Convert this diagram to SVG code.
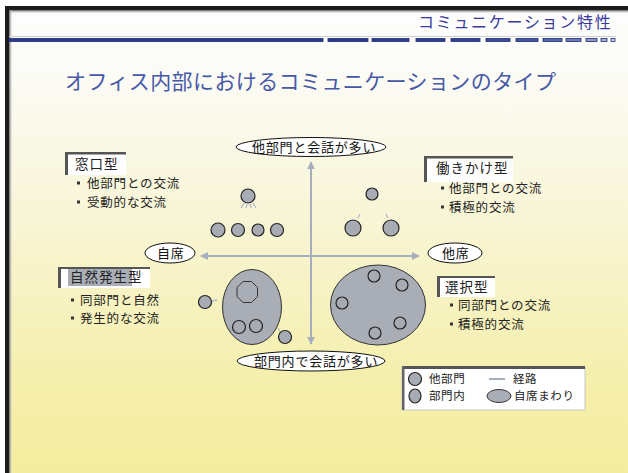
<svg xmlns="http://www.w3.org/2000/svg" width="628" height="473" viewBox="0 0 628 473">
<defs>
<linearGradient id="bg" x1="0" y1="0" x2="0" y2="1">
<stop offset="0" stop-color="#fdfdfd"/>
<stop offset="0.12" stop-color="#fcfcf8"/>
<stop offset="0.45" stop-color="#f8f5d6"/>
<stop offset="0.8" stop-color="#f5efac"/>
<stop offset="1" stop-color="#f4ed9e"/>
</linearGradient>
<linearGradient id="shadeTop" x1="0" y1="0" x2="0" y2="1">
<stop offset="0" stop-color="#555"/>
<stop offset="1" stop-color="#fdfdfd" stop-opacity="0"/>
</linearGradient>
<linearGradient id="shadeLeft" x1="0" y1="0" x2="1" y2="0">
<stop offset="0" stop-color="#666"/>
<stop offset="1" stop-color="#fdfdfd" stop-opacity="0"/>
</linearGradient>
<marker id="arr" viewBox="0 0 10 10" refX="9" refY="5" markerWidth="4" markerHeight="4" orient="auto-start-reverse" markerUnits="strokeWidth">
<path d="M0,0 L10,5 L0,10 Z" fill="#a6adbc"/>
</marker>
</defs>
<style>
.jp{font-family:"Noto Sans CJK JP","Noto Sans",sans-serif;}
.node{fill:#a7acb4;stroke:#222;stroke-width:1.2;}
.big{fill:#a9adb5;stroke:#333;stroke-width:1;}
.mark{stroke:#b3b9c5;stroke-width:1.3;fill:none;}
.axis{stroke:#a6adbc;stroke-width:2;fill:none;}
.oval{fill:#fff;stroke:#111;stroke-width:1;}
.olbl{font-size:13px;fill:#111;letter-spacing:0.8px;}
.lbl{font-size:13.5px;fill:#222;letter-spacing:1px;}
.item{font-size:12.5px;fill:#222;letter-spacing:0.8px;}
.bul{fill:#333;}
.boxw{fill:#fff;}
.boxd{fill:#555;}
.leg{font-size:11.5px;fill:#222;}
.dash{stroke:#1f2b75;stroke-width:0.8;}
</style>

<!-- frame and background -->
<rect x="0" y="0" width="628" height="473" fill="#ffffff"/>
<rect x="5" y="6" width="623" height="467" fill="url(#bg)"/>
<rect x="9" y="10" width="619" height="4" fill="url(#shadeTop)"/>
<rect x="9" y="10" width="4" height="463" fill="url(#shadeLeft)"/>
<rect x="5" y="6" width="623" height="4" fill="#1c1c1c"/>
<rect x="5" y="6" width="4" height="467" fill="#1c1c1c"/>

<!-- header -->
<g id="header">
<text class="jp" x="418" y="28" font-size="16" fill="#3a3a9c" letter-spacing="1.7">コミュニケーション特性</text>
<line x1="9" y1="36.5" x2="616" y2="36.5" stroke="#cfcfcf" stroke-width="1"/>
<rect x="9" y="38.5" width="314" height="3" fill="#2b3990" class="dash"/>
<rect x="328" y="38.5" width="40" height="3" fill="#2b3990" class="dash"/>
<rect x="372" y="38.5" width="37" height="3" fill="#2d3b92" class="dash"/>
<rect x="416" y="38.5" width="29" height="3" fill="#303f95" class="dash"/>
<rect x="451" y="38.5" width="29" height="3" fill="#34439a" class="dash"/>
<rect x="486" y="38.5" width="24" height="3" fill="#3c4a9f" class="dash"/>
<rect x="516" y="38.5" width="22" height="3" fill="#4654a5" class="dash"/>
<rect x="543" y="38.5" width="19" height="3" fill="#5765ae" class="dash"/>
<rect x="566" y="38.5" width="15" height="3" fill="#6f7cba" class="dash"/>
<rect x="586" y="38.5" width="11" height="3" fill="#8e99c8" class="dash"/>
<rect x="601" y="38.5" width="6" height="3" fill="#a9b2d6" class="dash"/>
<rect x="611" y="38.5" width="4" height="3" fill="#d0d5e8" class="dash"/>
</g>

<g id="title">
<text class="jp" x="65" y="89" font-size="21" fill="#4658a8" letter-spacing="0.4">オフィス内部におけるコミュニケーションのタイプ</text>
</g>

<!-- connectors (axes) -->
<g id="connectors">
<line class="axis" x1="311" y1="162" x2="311" y2="344" marker-start="url(#arr)" marker-end="url(#arr)"/>
<line class="axis" x1="201" y1="256" x2="419" y2="256" marker-start="url(#arr)" marker-end="url(#arr)"/>
</g>

<!-- axis labels -->
<g id="node-top">
<ellipse class="oval" cx="311" cy="147" rx="75" ry="9.5"/>
<text class="jp olbl" x="252" y="152">他部門と会話が多い</text>
</g>
<g id="node-bottom">
<ellipse class="oval" cx="311" cy="361" rx="74" ry="10"/>
<text class="jp olbl" x="254" y="366">部門内で会話が多い</text>
</g>
<g id="node-left">
<ellipse class="oval" cx="170" cy="253" rx="25" ry="10"/>
<text class="jp olbl" x="157" y="258">自席</text>
</g>
<g id="node-right">
<ellipse class="oval" cx="455" cy="253" rx="27" ry="10"/>
<text class="jp olbl" x="442" y="258">他席</text>
</g>

<!-- quadrant: 窓口型 -->
<g id="label-madoguchi">
<rect class="boxw" x="65" y="152" width="61" height="23"/>
<rect class="boxd" x="65" y="152" width="61" height="2.5"/>
<rect class="boxd" x="65" y="152" width="3" height="23"/>
<text class="jp lbl" x="75" y="169">窓口型</text>
<rect class="bul" x="77" y="181.5" width="3" height="3"/>
<text class="jp item" x="87" y="188">他部門との交流</text>
<rect class="bul" x="77" y="200.5" width="3" height="3"/>
<text class="jp item" x="87" y="207">受動的な交流</text>
</g>
<g id="group-madoguchi">
<circle class="node" cx="248" cy="196" r="7"/>
<path class="mark" d="M244,203 L241,208 M247,204 L246,208 M250,204 L251,208 M253,203 L256,208"/>
<circle class="node" cx="218" cy="230" r="7"/>
<circle class="node" cx="238" cy="230" r="6.5"/>
<circle class="node" cx="258" cy="230" r="6"/>
<circle class="node" cx="277" cy="230" r="6.5"/>
</g>

<!-- quadrant: 働きかけ型 -->
<g id="label-hatarakikake">
<rect class="boxw" x="424" y="156" width="89" height="26"/>
<rect class="boxd" x="424" y="156" width="89" height="2.5"/>
<rect class="boxd" x="424" y="156" width="3" height="26"/>
<text class="jp lbl" x="436" y="173">働きかけ型</text>
<rect class="bul" x="441" y="186.5" width="3" height="3"/>
<text class="jp item" x="449" y="193">他部門との交流</text>
<rect class="bul" x="441" y="205.5" width="3" height="3"/>
<text class="jp item" x="449" y="212">積極的交流</text>
</g>
<g id="group-hatarakikake">
<circle class="node" cx="372" cy="194" r="6"/>
<path class="mark" d="M358,218 L360,214 M386,214 L388,218"/>
<circle class="node" cx="353" cy="228" r="8"/>
<circle class="node" cx="391" cy="228" r="8"/>
</g>

<!-- quadrant: 自然発生型 -->
<g id="label-shizen">
<rect class="boxw" x="58" y="267" width="92" height="21"/>
<rect x="68" y="269" width="64" height="17" fill="#a9adb5"/>
<rect class="boxd" x="58" y="267" width="92" height="2"/>
<rect class="boxd" x="58" y="267" width="3" height="21"/>
<text class="jp lbl" x="70" y="282" letter-spacing="0">自然発生型</text>
<rect class="bul" x="71" y="298.5" width="3" height="3"/>
<text class="jp item" x="80" y="305" letter-spacing="0">同部門と自然</text>
<rect class="bul" x="71" y="316.5" width="3" height="3"/>
<text class="jp item" x="80" y="323" letter-spacing="0">発生的な交流</text>
</g>
<g id="group-shizen">
<ellipse class="big" cx="252" cy="307" rx="29.5" ry="37.5"/>
<polygon class="big" points="243,281.5 251.5,281.5 257.5,287.5 257.5,296.5 251.5,302.5 243,302.5 237,296.5 237,287.5" stroke-width="1.2"/>
<circle class="node" cx="239" cy="327" r="6.5"/>
<circle class="node" cx="256" cy="326" r="6.5"/>
<circle class="node" cx="205" cy="302" r="6.5"/>
<path class="mark" d="M212,301 L217,300 M278,328 L281,333"/>
<circle class="node" cx="285" cy="337" r="6.5"/>
</g>

<!-- quadrant: 選択型 -->
<g id="label-sentaku">
<rect class="boxw" x="437" y="276" width="58" height="21"/>
<rect class="boxd" x="437" y="276" width="58" height="2"/>
<rect class="boxd" x="437" y="276" width="3" height="21"/>
<text class="jp lbl" x="445" y="292">選択型</text>
<rect class="bul" x="450" y="303.5" width="3" height="3"/>
<text class="jp item" x="458" y="310">同部門との交流</text>
<rect class="bul" x="450" y="322.5" width="3" height="3"/>
<text class="jp item" x="458" y="329">積極的交流</text>
</g>
<g id="group-sentaku">
<ellipse class="big" cx="378" cy="305" rx="47.5" ry="40"/>
<circle class="node" cx="374" cy="276" r="6"/>
<circle class="node" cx="402" cy="285" r="6"/>
<circle class="node" cx="342" cy="303" r="6"/>
<circle class="node" cx="400" cy="323" r="6"/>
<circle class="node" cx="375" cy="333" r="6"/>
</g>

<!-- legend -->
<g id="legend">
<rect x="402" y="367" width="183" height="43" fill="#fff" stroke="#c8c8c8" stroke-width="1"/>
<rect x="402" y="366" width="183" height="3" fill="#555"/>
<rect x="402" y="366" width="2.5" height="44" fill="#666"/>
<circle class="node" cx="415" cy="379" r="6.5"/>
<text class="jp leg" x="429" y="382.5" letter-spacing="0.6">他部門</text>
<ellipse class="node" cx="415" cy="396" rx="6" ry="7"/>
<text class="jp leg" x="429" y="400" letter-spacing="0.6">部門内</text>
<line x1="489" y1="379" x2="505" y2="379" stroke="#a6adbc" stroke-width="2"/>
<text class="jp leg" x="513" y="382.5" letter-spacing="0.6">経路</text>
<ellipse class="big" cx="499" cy="396" rx="12" ry="6.5"/>
<text class="jp leg" x="514" y="400" letter-spacing="0.6">自席まわり</text>
</g>
</svg>
